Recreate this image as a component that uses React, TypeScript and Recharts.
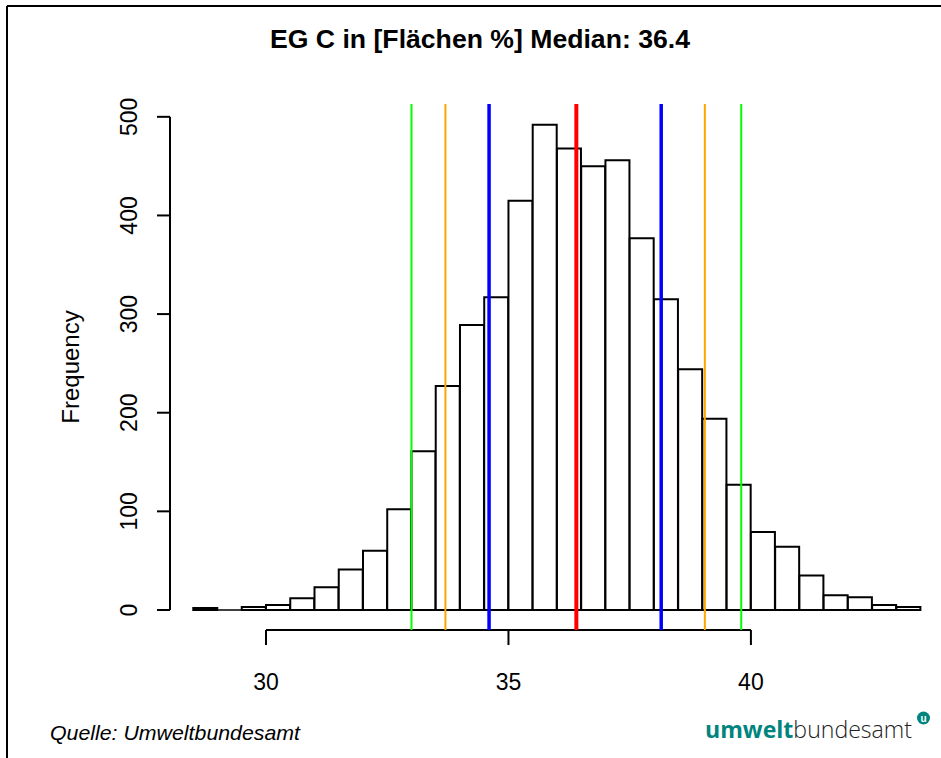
import { Bar, ComposedChart, ReferenceLine, XAxis, YAxis } from "recharts";

const FONT = "'Liberation Sans', Arial, sans-serif";

// histogram bins (left edge, width 0.5) and counts
const binStarts = [
  28.5, 29, 29.5, 30, 30.5, 31, 31.5, 32, 32.5, 33, 33.5, 34, 34.5, 35, 35.5,
  36, 36.5, 37, 37.5, 38, 38.5, 39, 39.5, 40, 40.5, 41, 41.5, 42, 42.5, 43,
];
const counts = [
  2, 0, 3, 5, 12, 23, 41, 60, 102, 161, 227, 289, 317, 415, 492,
  468, 450, 456, 377, 315, 244, 194, 127, 79, 64, 35, 15, 13, 5, 3,
];
const binWidth = 0.5;

const xTicks = [30, 35, 40];
const yTicks = [0, 100, 200, 300, 400, 500];

const greenLines = [33.0, 39.8];
const orangeLines = [33.7, 39.05];
const blueLines = [34.6, 38.15];
const medianLine = 36.4;

const xDomain = [28.02, 43.92];
const yDomain = [-20.3, 513];

const data = binStarts.map((s, i) => ({ mid: s + binWidth / 2, count: counts[i] }));
const histStart = binStarts[0];
const histEnd = binStarts[binStarts.length - 1] + binWidth;

const renderYTick = (props: any) => {
  const { x, y, payload } = props;
  const bx = x - 20;
  return (
    <text
      x={bx}
      y={y}
      transform={`rotate(-90, ${bx}, ${y})`}
      textAnchor="middle"
      fontSize={23}
      fontFamily={FONT}
      fill="#000"
    >
      {payload.value}
    </text>
  );
};

export default function App() {
  return (
    <div style={{ position: "absolute", left: 0, top: 0, width: 941, height: 758, background: "#fff" }}>
      <ComposedChart
        width={941}
        height={758}
        data={data}
        margin={{ top: 104, right: 0, bottom: 0, left: 0 }}
        barCategoryGap={0}
        barGap={0}
      >
        <XAxis
          dataKey="mid"
          type="number"
          domain={xDomain}
          allowDataOverflow
          ticks={xTicks}
          interval={0}
          axisLine={false}
          tickLine={{ stroke: "#000", strokeWidth: 2 }}
          tickSize={15}
          tickMargin={29}
          height={128}
          tick={{ fontSize: 23, fill: "#000", fontFamily: FONT }}
        />
        <YAxis
          type="number"
          domain={yDomain}
          allowDataOverflow
          ticks={yTicks}
          interval={0}
          axisLine={false}
          tickLine={{ stroke: "#000", strokeWidth: 2 }}
          tickSize={13}
          tickMargin={0}
          width={170}
          tick={renderYTick}
        />
        <Bar dataKey="count" fill="#fff" stroke="#000" strokeWidth={2} isAnimationActive={false} />
        {/* common bottom edge of the histogram (empty bins included) */}
        <ReferenceLine
          segment={[{ x: histStart, y: 0 }, { x: histEnd, y: 0 }]}
          stroke="#000"
          strokeWidth={1.5}
          ifOverflow="visible"
        />
        <ReferenceLine
          segment={[{ x: 30, y: yDomain[0] }, { x: 40, y: yDomain[0] }]}
          stroke="#000"
          strokeWidth={2}
          ifOverflow="visible"
        />
        <ReferenceLine
          segment={[{ x: xDomain[0], y: 0 }, { x: xDomain[0], y: 500 }]}
          stroke="#000"
          strokeWidth={2}
          ifOverflow="visible"
        />
        {greenLines.map((v) => (
          <ReferenceLine key={"g" + v} x={v} stroke="#00ff00" strokeWidth={2} />
        ))}
        {orangeLines.map((v) => (
          <ReferenceLine key={"o" + v} x={v} stroke="#ffa500" strokeWidth={2} />
        ))}
        {blueLines.map((v) => (
          <ReferenceLine key={"b" + v} x={v} stroke="#0000ff" strokeWidth={3.5} />
        ))}
        <ReferenceLine x={medianLine} stroke="#ff0000" strokeWidth={4} />
      </ComposedChart>

      <svg
        width={941}
        height={758}
        style={{ position: "absolute", left: 0, top: 0, pointerEvents: "none" }}
      >
        <line x1={7} y1={6} x2={941} y2={6} stroke="#000" strokeWidth={2} />
        <line x1={7} y1={6} x2={7} y2={758} stroke="#000" strokeWidth={2} />
        <text
          x={270}
          y={48}
          fontSize={25}
          fontWeight="bold"
          fontFamily={FONT}
          textLength={420}
          lengthAdjust="spacingAndGlyphs"
          fill="#000"
        >
          EG C in [Flächen %] Median: 36.4
        </text>
        <text
          x={79}
          y={367}
          transform="rotate(-90, 79, 367)"
          textAnchor="middle"
          fontSize={24}
          fontFamily={FONT}
          fill="#000"
        >
          Frequency
        </text>
        <text
          x={50}
          y={740}
          fontSize={21}
          fontStyle="italic"
          fontFamily={FONT}
          textLength={250}
          lengthAdjust="spacingAndGlyphs"
          fill="#000"
        >
          Quelle: Umweltbundesamt
        </text>
        <text
          x={705}
          y={738}
          fontSize={23}
          fontFamily="'Open Sans', 'Noto Sans', sans-serif"
          textLength={207}
          lengthAdjust="spacingAndGlyphs"
        >
          <tspan fill="#00857e" fontWeight="bold">umwelt</tspan>
          <tspan fill="#222" fontWeight={300}>bundesamt</tspan>
        </text>
        <circle cx={923.5} cy={718} r={6.5} fill="#00857e" />
        <text
          x={923.5}
          y={721.5}
          textAnchor="middle"
          fontSize={10}
          fontWeight="bold"
          fontFamily={FONT}
          fill="#fff"
        >
          u
        </text>
      </svg>
    </div>
  );
}
